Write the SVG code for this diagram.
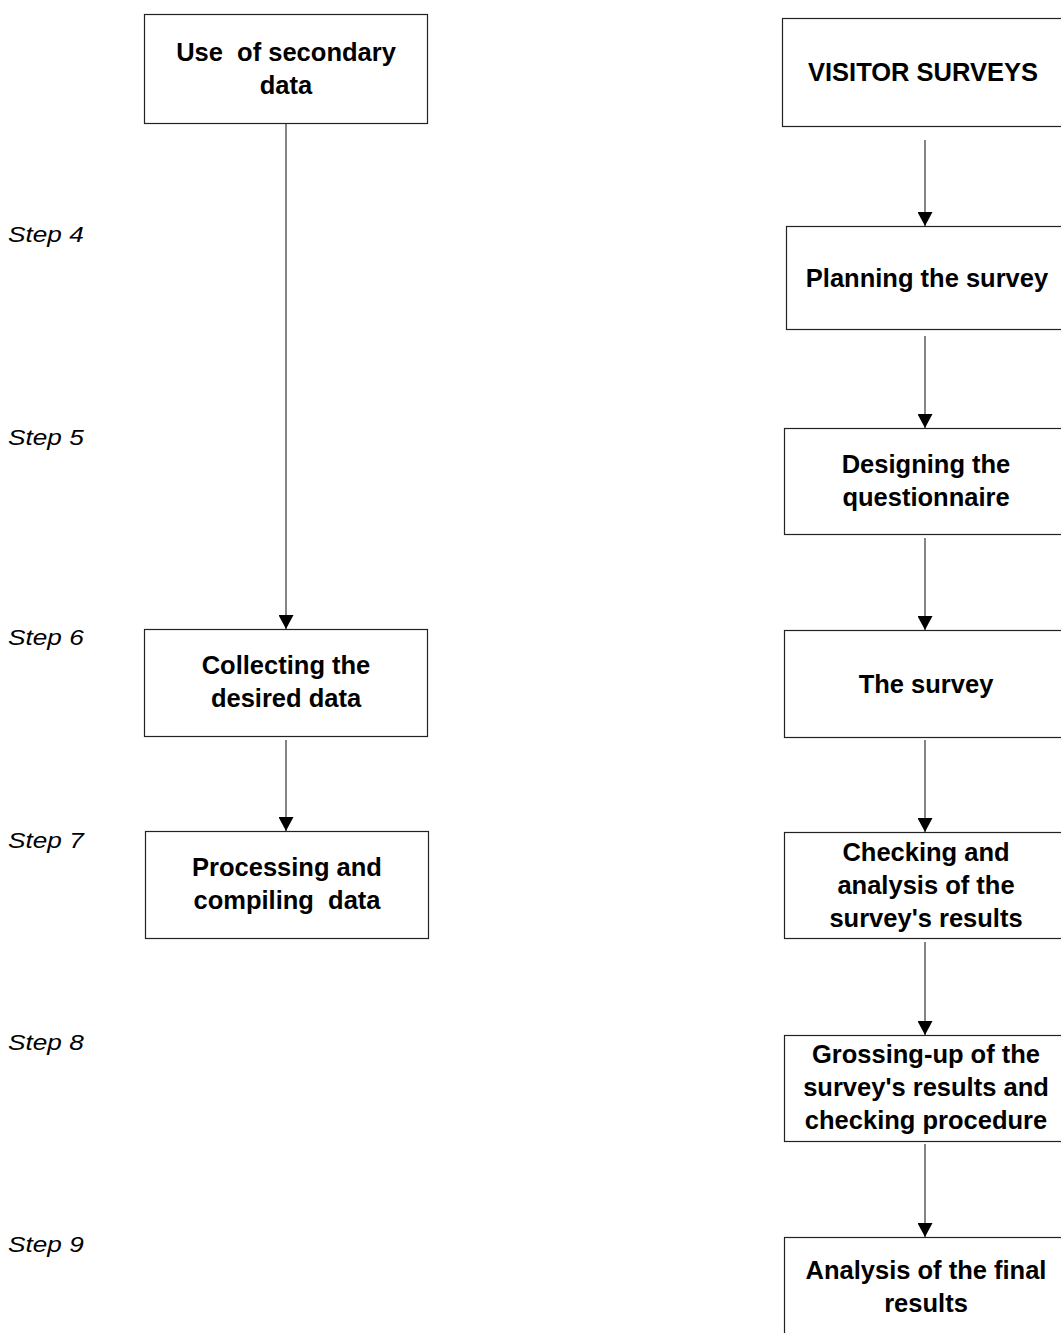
<svg xmlns="http://www.w3.org/2000/svg" width="1061" height="1333" viewBox="0 0 1061 1333">
  <style>
    .box { fill: #ffffff; stroke: #222222; stroke-width: 1.2; }
    .label { font-family: "Liberation Sans", Arial, sans-serif; font-weight: bold; font-size: 25.5px; fill: #000000; text-anchor: middle; white-space: pre; }
    .step { font-family: "Liberation Sans", Arial, sans-serif; font-style: italic; font-size: 22px; fill: #000000; }
    .conn { stroke: #333333; stroke-width: 1.2; fill: none; marker-end: url(#arrow); }
  </style>
  <defs>
    <marker id="arrow" markerWidth="14" markerHeight="15" refX="14" refY="7.5" orient="auto" markerUnits="userSpaceOnUse">
      <path d="M0,0 L14,7.5 L0,15 Z" fill="#000000"/>
    </marker>
  </defs>
  <rect width="1061" height="1333" fill="#ffffff"/>

  <!-- step labels, slightly widened -->
  <g id="steps" transform="scale(1.19,1)">
    <text class="step" x="6.8" y="242">Step 4</text>
    <text class="step" x="6.8" y="445">Step 5</text>
    <text class="step" x="6.8" y="645">Step 6</text>
    <text class="step" x="6.8" y="848">Step 7</text>
    <text class="step" x="6.8" y="1050">Step 8</text>
    <text class="step" x="6.8" y="1252">Step 9</text>
  </g>

  <!-- connectors -->
  <g id="connectors">
    <line class="conn" x1="286" y1="124" x2="286" y2="629"/>
    <line class="conn" x1="286" y1="740" x2="286" y2="831"/>
    <line class="conn" x1="925" y1="140" x2="925" y2="226"/>
    <line class="conn" x1="925" y1="336" x2="925" y2="428"/>
    <line class="conn" x1="925" y1="538" x2="925" y2="630"/>
    <line class="conn" x1="925" y1="740" x2="925" y2="832"/>
    <line class="conn" x1="925" y1="942" x2="925" y2="1035"/>
    <line class="conn" x1="925" y1="1144" x2="925" y2="1237"/>
  </g>

  <!-- left column -->
  <g id="secondary-data">
    <rect class="box" x="144.5" y="14.5" width="283" height="109"/>
    <text class="label" x="286" y="61" xml:space="preserve">Use  of secondary</text>
    <text class="label" x="286" y="94">data</text>
  </g>
  <g id="collecting">
    <rect class="box" x="144.5" y="629.5" width="283" height="107"/>
    <text class="label" x="286" y="674">Collecting the</text>
    <text class="label" x="286" y="707">desired data</text>
  </g>
  <g id="processing">
    <rect class="box" x="145.5" y="831.5" width="283" height="107"/>
    <text class="label" x="287" y="876">Processing and</text>
    <text class="label" x="287" y="909" xml:space="preserve">compiling  data</text>
  </g>

  <!-- right column -->
  <g id="visitor-surveys">
    <rect class="box" x="782.5" y="18.5" width="290" height="108"/>
    <text class="label" x="923" y="81">VISITOR SURVEYS</text>
  </g>
  <g id="planning">
    <rect class="box" x="786.5" y="226.5" width="290" height="103"/>
    <text class="label" x="927" y="287">Planning the survey</text>
  </g>
  <g id="designing">
    <rect class="box" x="784.5" y="428.5" width="290" height="106"/>
    <text class="label" x="926" y="473">Designing the</text>
    <text class="label" x="926" y="506">questionnaire</text>
  </g>
  <g id="the-survey">
    <rect class="box" x="784.5" y="630.5" width="290" height="107"/>
    <text class="label" x="926" y="693">The survey</text>
  </g>
  <g id="checking">
    <rect class="box" x="784.5" y="832.5" width="290" height="106"/>
    <text class="label" x="926" y="861">Checking and</text>
    <text class="label" x="926" y="894">analysis of the</text>
    <text class="label" x="926" y="927">survey's results</text>
  </g>
  <g id="grossing-up">
    <rect class="box" x="784.5" y="1035.5" width="290" height="106"/>
    <text class="label" x="926" y="1063">Grossing-up of the</text>
    <text class="label" x="926" y="1096">survey's results and</text>
    <text class="label" x="926" y="1129">checking procedure</text>
  </g>
  <g id="final-analysis">
    <rect class="box" x="784.5" y="1237.5" width="290" height="120"/>
    <text class="label" x="926" y="1279">Analysis of the final</text>
    <text class="label" x="926" y="1312">results</text>
  </g>
</svg>
